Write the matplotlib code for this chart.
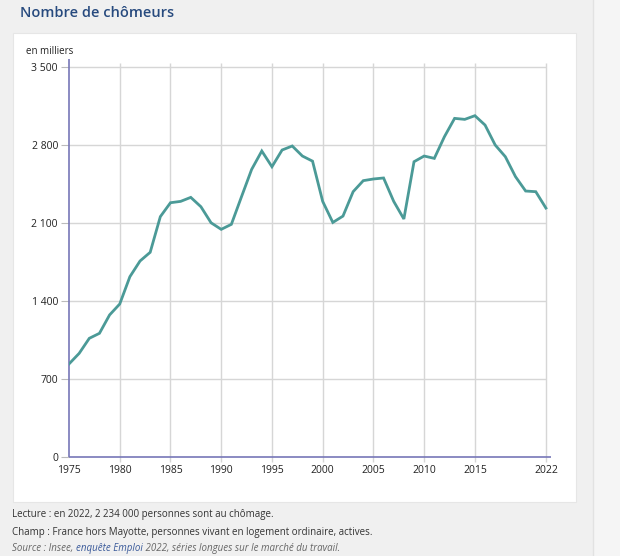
import matplotlib.pyplot as plt
from matplotlib.patches import Rectangle

plt.rcParams['font.family'] = ['Open Sans', 'DejaVu Sans']

years = list(range(1975, 2023))
chomeurs = [835, 930, 1065, 1110, 1275, 1373, 1618, 1759, 1837, 2157,
            2282, 2294, 2330, 2246, 2102, 2043, 2088, 2336, 2581, 2746,
            2605, 2755, 2791, 2701, 2655, 2294, 2105, 2162, 2381, 2480,
            2495, 2504, 2294, 2136, 2650, 2701, 2680, 2875, 3039, 3030,
            3063, 2979, 2800, 2695, 2516, 2387, 2381, 2234]
xticks = [1975, 1980, 1985, 1990, 1995, 2000, 2005, 2010, 2015, 2022]
yticks = [0, 700, 1400, 2100, 2800, 3500]
ytick_labels = ['0', '700', '1 400', '2 100', '2 800', '3 500']

W, H = 620, 556
fig = plt.figure(figsize=(W / 100, H / 100), dpi=100)
fig.patch.set_facecolor('#f0f0f0')

# right strip + divider
fig.patches.append(Rectangle((593 / W, 0), 1, 1, transform=fig.transFigure,
                             facecolor='#f5f5f5', edgecolor='none', zorder=-2))
fig.add_artist(plt.Line2D([593 / W, 593 / W], [0, 1], color='#e2e2e2', lw=1, zorder=-1))

# white card
fig.patches.append(Rectangle((13 / W, 1 - 502 / H), (576 - 13) / W, (502 - 33) / H,
                             transform=fig.transFigure, facecolor='white',
                             edgecolor='#e6e6e6', lw=0.8, zorder=-1))

fig.text(20 / W, 1 - 13 / H, 'Nombre de chômeurs', fontsize=10.5, color='#274a7e',
         fontweight='semibold', va='center', ha='left')
fig.text(26 / W, 1 - 52 / H, 'en milliers', fontsize=7, color='#222222',
         va='center', ha='left')

ax = fig.add_axes([69 / W, 1 - 457 / H, (551 - 69) / W, (457 - 67) / H])
ax.set_facecolor('none')
ax.set_xlim(1975, 2022.5)
ax.set_ylim(0, 3500)

# one pixel in data units
px_y = 3500 / (457 - 67)
grid_c = '#d6d6d6'
ax.vlines(xticks[1:], -5 * px_y, 3500 + 4 * px_y, color=grid_c, lw=1, clip_on=False, zorder=1)
ax.hlines(yticks[1:], 1975, 2022, color=grid_c, lw=1, clip_on=False, zorder=1)
ax.plot([1975, 1975], [0, 3500 + 8 * px_y], color='#7777b8', lw=1.2,
        clip_on=False, zorder=2, solid_capstyle='butt')
ax.plot([1975, 2022.5], [0, 0], color='#7777b8', lw=1.2,
        clip_on=False, zorder=2, solid_capstyle='butt')

ax.plot(years, chomeurs, color='#4b9a97', lw=2, solid_joinstyle='miter', zorder=3)

ax.set_xticks(xticks)
ax.set_xticklabels([str(x) for x in xticks])
ax.set_yticks(yticks)
ax.set_yticklabels(ytick_labels)

for s in ax.spines.values():
    s.set_visible(False)

ax.tick_params(axis='x', length=0, pad=6, labelsize=7.5, labelcolor='#222222')
ax.tick_params(axis='y', length=6, width=0.8, color='#bbbbbb', pad=2,
               labelsize=7.5, labelcolor='#222222')

fig.text(12 / W, 1 - 515 / H, 'Lecture : en 2022, 2 234 000 personnes sont au chômage.',
         fontsize=7, color='#333333', va='center', ha='left')
fig.text(12 / W, 1 - 532 / H,
         'Champ : France hors Mayotte, personnes vivant en logement ordinaire, actives.',
         fontsize=7, color='#333333', va='center', ha='left')

t1 = fig.text(12 / W, 1 - 548 / H, 'Source : Insee, ', fontsize=7, color='#666666',
              style='italic', va='center', ha='left')
fig.canvas.draw()
r = fig.canvas.get_renderer()
bb = t1.get_window_extent(r)
t2 = fig.text(bb.x1 / W, 1 - 548 / H, 'enquête Emploi', fontsize=7, color='#3a5a9a',
              style='italic', va='center', ha='left')
bb2 = t2.get_window_extent(r)
fig.text(bb2.x1 / W, 1 - 548 / H, ' 2022, séries longues sur le marché du travail.',
         fontsize=7, color='#666666', style='italic', va='center', ha='left')

fig.savefig('out.png', dpi=100, facecolor=fig.get_facecolor())
